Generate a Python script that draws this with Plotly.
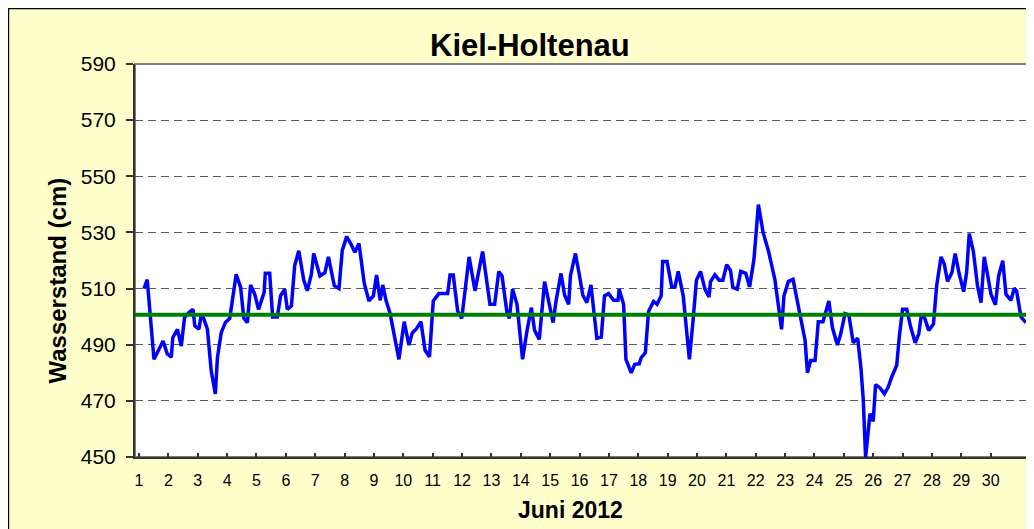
import plotly.graph_objects as go

# Water level Kiel-Holtenau, June 2012 (day of month as fractional day, value in cm)
days = [
    1.17, 1.28, 1.51, 1.82, 1.96, 2.10, 2.15, 2.31, 2.44, 2.55, 2.69, 2.84, 2.90, 3.04, 3.12, 3.20,
    3.33, 3.46, 3.60, 3.67, 3.80, 3.94, 4.09, 4.31, 4.46, 4.57, 4.69, 4.80, 4.94, 5.07, 5.26, 5.30,
    5.45, 5.55, 5.71, 5.82, 5.96, 6.05, 6.19, 6.30, 6.44, 6.61, 6.73, 6.87, 6.95,
    7.16, 7.33, 7.45, 7.65, 7.81, 7.92, 8.07, 8.22, 8.35, 8.49, 8.67, 8.83, 8.98, 9.09, 9.21, 9.30,
    9.41, 9.55, 9.69, 9.85, 10.03, 10.19, 10.31, 10.45, 10.60, 10.74, 10.89, 11.02, 11.21, 11.51,
    11.59, 11.70, 11.85, 11.99, 12.24, 12.44, 12.70, 12.95, 13.11,
    13.25, 13.36, 13.53, 13.61, 13.72, 13.87, 14.06, 14.21, 14.36, 14.47, 14.63, 14.81, 14.95, 15.10,
    15.20, 15.37, 15.49, 15.63, 15.69, 15.86, 15.99, 16.11, 16.25, 16.39, 16.48, 16.59, 16.74, 16.85,
    16.99, 17.16, 17.31, 17.35, 17.50, 17.58, 17.76, 17.88, 18.03, 18.10, 18.24, 18.35, 18.52, 18.64,
    18.78, 18.83, 18.98,
    19.14, 19.25, 19.36, 19.53, 19.74, 19.86, 19.98, 20.12, 20.27, 20.41, 20.46, 20.61, 20.75, 20.88,
    21.01, 21.14, 21.22, 21.37, 21.49, 21.66, 21.79, 21.94, 22.09, 22.25, 22.43, 22.65, 22.77, 22.88,
    22.96, 23.11, 23.27, 23.41, 23.56, 23.68, 23.76, 23.87, 24.02, 24.13, 24.29, 24.49, 24.61, 24.78,
    24.89, 25.04,
    25.17, 25.32, 25.47, 25.58, 25.66, 25.74, 25.89, 26.00, 26.08, 26.23, 26.38, 26.51, 26.63, 26.80,
    26.89, 27.00, 27.14, 27.28, 27.43, 27.55, 27.63, 27.74, 27.89, 28.05, 28.16, 28.31, 28.42, 28.53,
    28.68, 28.79, 28.93, 29.08, 29.18, 29.27, 29.41, 29.55, 29.67, 29.78, 29.89, 30.01, 30.16, 30.27,
    30.41, 30.52, 30.69, 30.80, 30.88, 31.03, 31.20,
]
water_level = [
    510.0, 513.2, 484.8, 491.3, 486.8, 485.6, 492.5, 495.5, 489.5, 499.6, 501.4, 502.6, 496.7, 495.5, 500.8, 499.4,
    495.5, 480.6, 472.5, 485.4, 494.3, 497.9, 499.4, 515.1, 510.4, 499.4, 497.9, 511.3, 508.0, 502.6, 508.6, 515.5,
    515.5, 499.9, 499.9, 507.4, 509.8, 502.6, 503.8, 518.1, 523.5, 513.0, 509.2, 515.1, 522.5,
    514.5, 515.7, 521.3, 511.0, 510.0, 523.5, 528.5, 525.8, 522.9, 526.1, 511.8, 505.6, 507.4, 514.8, 505.8, 511.3,
    505.8, 501.1, 493.7, 484.8, 498.2, 489.9, 494.3, 495.7, 498.2, 488.0, 485.7, 505.6, 508.2, 508.2,
    514.8, 514.8, 502.0, 499.4, 521.3, 509.2, 523.2, 504.4, 504.4,
    516.1, 514.5, 501.4, 499.4, 509.8, 504.4, 484.8, 494.9, 503.2, 495.1, 491.9, 512.5, 505.6, 497.9,
    505.6, 515.4, 507.7, 504.4, 514.5, 522.5, 515.1, 507.7, 505.0, 511.3, 502.6, 492.3, 492.7, 507.4,
    508.2, 505.8, 505.8, 509.8, 504.4, 484.8, 480.0, 483.0, 483.2, 485.4, 487.1, 501.8, 505.4, 504.4,
    507.4, 519.6, 519.6,
    510.6, 510.6, 516.1, 507.4, 484.8, 497.9, 513.0, 516.1, 509.8, 507.0, 512.5, 514.9, 513.0, 513.0,
    518.5, 516.5, 510.4, 509.8, 516.1, 515.4, 510.6, 520.5, 539.9, 530.0, 523.5, 513.3, 504.4, 495.5,
    507.4, 512.5, 513.3, 506.2, 499.0, 491.5, 480.0, 484.4, 484.4, 498.2, 498.2, 505.6, 496.1, 489.9,
    493.7, 501.1,
    500.6, 490.7, 492.3, 481.8, 470.5, 450.0, 465.4, 462.7, 475.8, 474.6, 472.5, 474.9, 478.5, 482.7,
    493.1, 502.6, 502.6, 496.1, 490.7, 493.9, 499.9, 499.9, 495.1, 497.3, 511.0, 521.3, 518.7, 512.5,
    515.7, 522.5, 515.1, 508.9, 515.7, 529.6, 523.2, 511.0, 505.0, 521.3, 515.1, 508.0, 504.2, 514.5,
    519.9, 508.0, 505.8, 510.1, 509.2, 499.9, 497.9,
]
mean_level = 500.7

day_ticks = list(range(1, 31))
day_labels = [str(d) for d in day_ticks]
y_ticks = list(range(450, 591, 20))
x_range = [0.864, 31.27]
y_range = [450, 590]

title_text = "Kiel-Holtenau"
x_title = "Juni 2012"
y_title = "Wasserstand (cm)"

FONT = "Arial, Liberation Sans, sans-serif"

fig = go.Figure()
fig.add_trace(go.Scatter(
    x=days, y=water_level, mode="lines",
    line=dict(color="#0000FF", width=3.5), hoverinfo="x+y", showlegend=False,
))
fig.add_trace(go.Scatter(
    x=x_range, y=[mean_level, mean_level], mode="lines",
    line=dict(color="#008000", width=4), showlegend=False,
))

shapes = [
    # chart frame (outer black border)
    dict(type="rect", xref="paper", yref="paper", x0=-0.1417, x1=1.05, y0=-0.3, y1=1.1412,
         fillcolor="rgba(0,0,0,0)", line=dict(color="black", width=1.5), layer="below"),
    # plot area border (gray)
    dict(type="rect", xref="paper", yref="paper", x0=0, x1=1, y0=0, y1=1,
         fillcolor="rgba(0,0,0,0)", line=dict(color="#808080", width=2), layer="below"),
]

annotations = [
    dict(text=f"<b>{title_text}</b>", xref="paper", yref="paper", x=0.442, y=1.048,
         xanchor="center", yanchor="middle", showarrow=False,
         font=dict(family=FONT, size=31, color="black")),
    dict(text=f"<b>{x_title}</b>", xref="paper", yref="paper", x=0.488, y=-0.135,
         xanchor="center", yanchor="middle", showarrow=False,
         font=dict(family=FONT, size=23, color="black")),
    dict(text=f"<b>{y_title}</b>", xref="paper", yref="paper", x=-0.0862, y=0.449,
         xanchor="center", yanchor="middle", showarrow=False, textangle=-90,
         font=dict(family=FONT, size=24, color="black")),
]

fig.update_layout(
    width=1026, height=521,
    margin=dict(l=127, r=6, t=56, b=72),
    paper_bgcolor="#FFFFCC", plot_bgcolor="white",
    font=dict(family=FONT, color="black"),
    shapes=shapes, annotations=annotations,
    xaxis=dict(
        range=x_range, tickmode="array", tickvals=day_ticks, ticktext=day_labels,
        ticks="inside", ticklen=4, tickwidth=1.5, tickcolor="#333333",
        showline=True, linecolor="#333333", linewidth=2,
        showgrid=False, zeroline=False, tickfont=dict(size=16),
        ticklabelstandoff=8,
    ),
    yaxis=dict(
        range=y_range, tickmode="array", tickvals=y_ticks,
        ticks="outside", ticklen=7, tickwidth=1.5, tickcolor="#333333",
        showline=True, linecolor="#333333", linewidth=2,
        showgrid=True, gridcolor="#595959", gridwidth=1, griddash="8px,5px",
        zeroline=False, tickfont=dict(size=21), ticklabelstandoff=6,
    ),
)

fig.write_html("out.html")
